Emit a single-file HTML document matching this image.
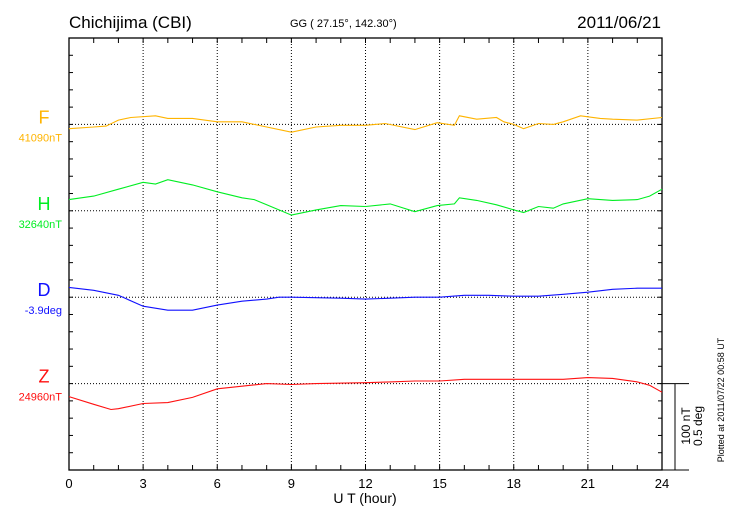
<!DOCTYPE html>
<html><head><meta charset="utf-8"><style>
body{margin:0;background:#fff}
svg{display:block;font-family:"Liberation Sans",sans-serif}
</style></head><body>
<svg id="c" width="730" height="520">
<text x="69" y="28" font-size="17">Chichijima (CBI)</text>
<text x="290" y="27" font-size="11">GG ( 27.15°, 142.30°)</text>
<text x="661" y="28" font-size="17" text-anchor="end">2011/06/21</text>
<text x="365" y="503" font-size="14" text-anchor="middle">U T (hour)</text>
<text transform="translate(724,400) rotate(-90)" font-size="9" text-anchor="middle">Plotted at 2011/07/22 00:58 UT</text>
<text transform="translate(690,426) rotate(-90)" font-size="12" text-anchor="middle">100 nT</text>
<text transform="translate(702,426) rotate(-90)" font-size="12" text-anchor="middle">0.5 deg</text>
<g id="grid"></g><g id="axes"></g><g id="series"></g><g id="labels"></g>
</svg>
<script>
const xTicks=[0,3,6,9,12,15,18,21,24];
const fHours=[0,1,1.5,2,2.5,3.5,4,5,6,7,8,9,10,11,12,12.8,14,14.9,15.6,15.8,16.5,17.3,17.6,18,18.4,19,19.6,20,20.7,21.5,22,23,24];
const fVals=[-5,-3,-2,5,8,10,7,7,3,3,-3,-9,-3,-1,-1,1,-6,2,-1,10,6,8,3,0,-5,1,0,3,10,7,6,5,8];
const hHours=[0,1,2,3,3.5,4,5,6,7,7.5,8,9,10,11,12,13,14,14.9,15.6,15.8,16.5,17.3,18,18.4,19,19.6,20,21,22,23,23.5,24];
const hVals=[13,17,25,33,31,36,30,22,15,13,7,-5,1,6,5,8,-1,6,8,15,12,7,1,-2,5,3,8,14,12,13,17,25];
const dHours=[0,1,2,3,4,5,6,7,8,8.5,9,11,12,13,14,15,16,17,18,19,20,21,22,23,24];
const dVals=[0.057,0.040,0.011,-0.052,-0.075,-0.075,-0.046,-0.023,-0.011,0,0,-0.006,-0.011,-0.006,0,0,0.011,0.011,0.006,0.006,0.017,0.029,0.046,0.052,0.052];
const zHours=[0,1,1.7,2,3,4,5,6,7,8,9,10,12,13,14,15,16,17,18,19,20,21,22,23,23.5,24];
const zVals=[-15,-24,-30,-29,-23,-22,-16,-6,-3,0,-1,0,1,2,3,3,5,5,5,5,5,7,6,2,-2,-10];
const names=["F","H","D","Z"];
const baseLabels=["41090nT","32640nT","-3.9deg","24960nT"];

const NS="http://www.w3.org/2000/svg";
const L=69,R=662,T=38,B=470,step=(B-T)/25;
const x=h=>L+h/24*(R-L);
const pxPerNT=step*5/100, pxPerDeg=step*5/0.5;
function mk(tag,at,parent){const e=document.createElementNS(NS,tag);for(const k in at)e.setAttribute(k,at[k]);document.getElementById(parent).appendChild(e);return e;}
// grid
xTicks.forEach(t=>{if(t>0&&t<24){const e=mk('line',{x1:x(t),x2:x(t),y1:T,y2:B,stroke:'#000','stroke-width':1,'stroke-dasharray':'1,2'},'grid');

}});
const bases=[1,2,3,4].map(i=>T+i*5*step);
bases.forEach(b=>{const e=mk('line',{x1:L,x2:R,y1:b,y2:b,stroke:'#000','stroke-width':1,'stroke-dasharray':'1,2'},'grid');

});
// frame
const fr=mk('rect',{x:L,y:T,width:R-L,height:B-T,fill:'none',stroke:'#000','stroke-width':1.3},'axes');


for(let h=1;h<24;h++){[[T,T+5],[B,B-5]].forEach(p=>{const e=mk('line',{x1:x(h),x2:x(h),y1:p[0],y2:p[1],stroke:'#000'},'axes');

});}
for(let i=1;i<25;i++){const y=T+i*step;[[L,L+4],[R,R-4]].forEach(p=>{const e=mk('line',{x1:p[0],x2:p[1],y1:y,y2:y,stroke:'#000'},'axes');

});}
xTicks.forEach(t=>{const e=mk('text',{x:x(t),y:488,'font-size':13,'text-anchor':'middle'},'axes');e.textContent=t;

});
// scale bar
const sb=mk('path',{d:`M${R} ${bases[3]}H689M${R} ${B}H689M675 ${bases[3]}V${B}`,stroke:'#000',fill:'none'},'axes');


// series
const colors=["#ffb400","#00ee22","#1010ff","#ff1010"];
const sets=[[fHours,fVals,pxPerNT],[hHours,hVals,pxPerNT],[dHours,dVals,pxPerDeg],[zHours,zVals,pxPerNT]];
sets.forEach((s,i)=>{const d=s[0].map((h,j)=>(j?'L':'M')+x(h).toFixed(1)+' '+(bases[i]-s[1][j]*s[2]).toFixed(1)).join('');
const p=mk('path',{d:d,fill:'none',stroke:colors[i],'stroke-width':1.1},'series');


const t=mk('text',{x:44,y:bases[i]-1,'font-size':18,fill:colors[i],'text-anchor':'middle'},'labels');t.textContent=names[i];


const b=mk('text',{x:62,y:bases[i]+17,'font-size':11,fill:colors[i],'text-anchor':'end'},'labels');b.textContent=baseLabels[i];

});
</script>
</body></html>
